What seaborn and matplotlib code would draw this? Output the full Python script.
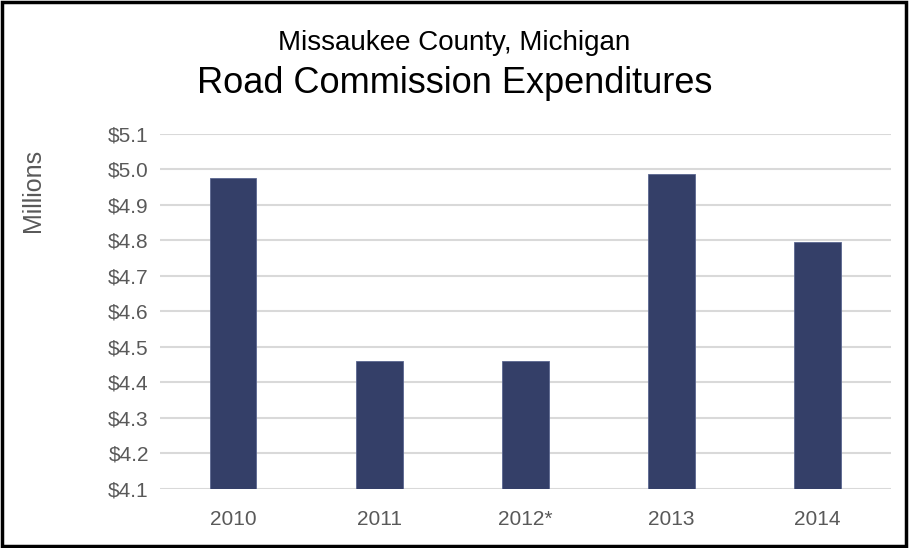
import matplotlib
matplotlib.use("Agg")
import matplotlib.pyplot as plt
import seaborn as sns
import pandas as pd
from matplotlib.patches import Rectangle

years = ["2010", "2011", "2012*", "2013", "2014"]
expenditures = [4.975, 4.46, 4.46, 4.987, 4.797]  # millions of dollars
y_ticks = [4.1, 4.2, 4.3, 4.4, 4.5, 4.6, 4.7, 4.8, 4.9, 5.0, 5.1]
y_tick_labels = ["$4.1", "$4.2", "$4.3", "$4.4", "$4.5", "$4.6",
                 "$4.7", "$4.8", "$4.9", "$5.0", "$5.1"]

df = pd.DataFrame({"Year": years, "Expenditure": expenditures})

sns.set_theme(style="white")
plt.rcParams["font.family"] = ["Liberation Sans", "DejaVu Sans"]

fig = plt.figure(figsize=(9.09, 5.48), dpi=100)
ax = fig.add_axes([0.176, 0.1077, 0.804, 0.6478])

sns.barplot(data=df, x="Year", y="Expenditure", color="#343F68",
            width=0.32, saturation=1, ax=ax, zorder=3,
            edgecolor="#5a6690", linewidth=0.6)

ax.set_ylim(4.1, 5.1)
ax.set_xlim(-0.5, 4.5)
ax.set_yticks(y_ticks)
ax.set_yticklabels(y_tick_labels)
ax.yaxis.grid(True, color="#d9d9d9", linewidth=1.5, zorder=0)
ax.set_axisbelow(True)
for s in ax.spines.values():
    s.set_visible(False)
ax.tick_params(axis="both", length=0, labelsize=15, colors="#595959")
ax.tick_params(axis="x", pad=15)
ax.tick_params(axis="y", pad=8)
ax.set_xlabel("")
ax.set_ylabel("Millions", fontsize=18, color="#595959")
ax.yaxis.set_label_coords(-0.158, 0.842)

fig.text(0.5, 0.921, "Missaukee County, Michigan", ha="center", va="center",
         fontsize=20, color="#000000")
fig.text(0.5, 0.847, "Road Commission Expenditures", ha="center", va="center",
         fontsize=26, color="#000000")

fig.add_artist(Rectangle((0.002, 0.003), 0.995, 0.993, transform=fig.transFigure,
                         fill=False, edgecolor="black", linewidth=2.5))

fig.savefig("out.png", dpi=100)
